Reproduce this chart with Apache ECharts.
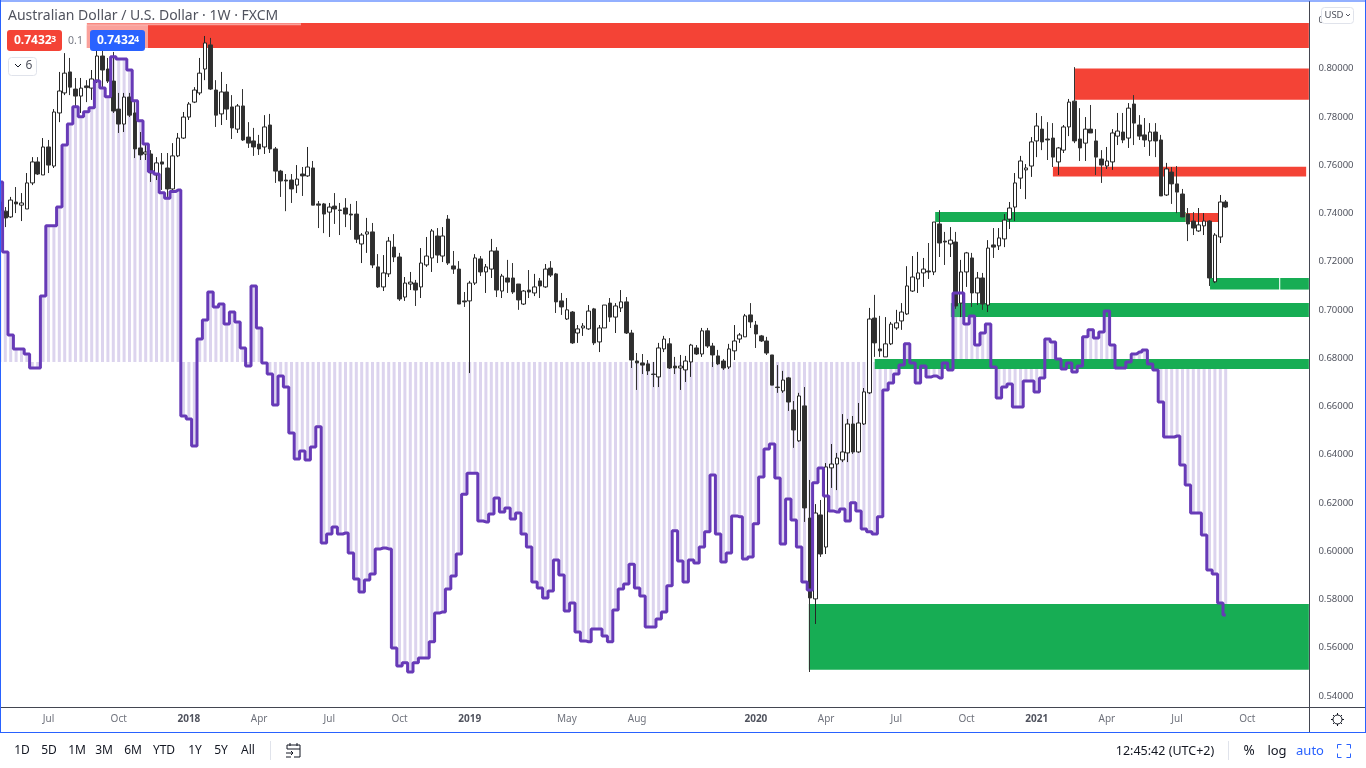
<!DOCTYPE html>
<html><head><meta charset="utf-8">
<style>html,body{margin:0;padding:0;background:#fff;overflow:hidden}#c{width:1366px;height:768px}</style>
<script src="https://cdn.jsdelivr.net/npm/echarts@6/dist/echarts.min.js"></script>
</head><body><div id="c"></div>
<script>
const weekOpen=[.7447,.7409,.7385,.7447,.7434,.7418,.7526,.7613,.7559,.7675,
.7596,.7816,.7899,.7986,.7915,.7886,.7928,.7919,.7952,.8052,
.7998,.7948,.7832,.7770,.7882,.7816,.7671,.7646,.7646,.7559,
.7613,.7588,.7501,.7638,.7712,.7799,.7861,.7899,.7998,.8098,
.7911,.7812,.7903,.7841,.7749,.7845,.7716,.7700,.7687,.7675,
.7766,.7667,.7575,.7538,.7538,.7517,.7563,.7555,.7588,.7439,
.7439,.7405,.7430,.7414,.7422,.7397,.7397,.7273,.7314,.7323,
.7178,.7095,.7149,.7260,.7219,.7053,.7107,.7111,.7095,.7186,
.7215,.7306,.7223,.7376,.7182,.7169,.7037,.7037,.7111,.7211,
.7157,.7169,.7244,.7078,.7132,.7132,.7107,.7024,.7082,.7070,
.7120,.7095,.7173,.7149,.7037,.6962,.6991,.6904,.6925,.6921,
.7004,.6867,.6925,.7028,.6970,.7008,.7033,.6904,.6788,.6780,
.6776,.6734,.6722,.6838,.6859,.6767,.6759,.6751,.6784,.6842,
.6817,.6913,.6850,.6809,.6788,.6763,.6830,.6879,.6888,.6979,
.6937,.6892,.6871,.6813,.6680,.6664,.6718,.6585,.6457,.6602,
.6137,.5802,.6150,.6017,.6345,.6361,.6378,.6407,.6527,.6411,
.6527,.6656,.6966,.6838,.6805,.6859,.6925,.6954,.6983,.7078,
.7128,.7153,.7161,.7157,.7356,.7285,.7273,.7281,.7028,.7157,
.7215,.7070,.7132,.7020,.7269,.7265,.7294,.7376,.7426,.7546,
.7580,.7596,.7700,.7749,.7708,.7712,.7613,.7662,.7758,.7865,
.7708,.7691,.7749,.7700,.7625,.7596,.7613,.7720,.7737,.7712,
.7853,.7766,.7725,.7700,.7737,.7704,.7476,.7571,.7522,.7480,
.7397,.7368,.7327,.7348,.7368,.7116,.7302,.7447];
const weekClose=[.7413,.7381,.7455,.7439,.7443,.7526,.7613,.7563,.7675,.7600,
.7820,.7907,.7981,.7923,.7886,.7919,.7921,.7957,.8052,.7994,
.7948,.7824,.7770,.7882,.7807,.7667,.7642,.7654,.7567,.7609,
.7604,.7501,.7638,.7712,.7799,.7853,.7911,.7981,.8106,.7915,
.7807,.7903,.7832,.7754,.7845,.7704,.7691,.7675,.7667,.7758,
.7667,.7575,.7534,.7534,.7501,.7542,.7555,.7592,.7434,.7434,
.7397,.7426,.7418,.7412,.7397,.7393,.7293,.7310,.7323,.7186,
.7095,.7153,.7285,.7219,.7045,.7111,.7115,.7082,.7194,.7223,
.7327,.7227,.7306,.7194,.7169,.7024,.7033,.7111,.7215,.7157,
.7178,.7244,.7082,.7140,.7115,.7074,.7041,.7078,.7074,.7095,
.7099,.7169,.7144,.7033,.7012,.7000,.6863,.6921,.6933,.6995,
.6863,.6925,.7020,.6970,.7016,.7033,.6904,.6792,.6780,.6771,
.6747,.6732,.6842,.6879,.6759,.6759,.6767,.6788,.6854,.6817,
.6913,.6850,.6813,.6776,.6759,.6838,.6871,.6896,.6975,.6950,
.6900,.6871,.6821,.6688,.6678,.6709,.6618,.6502,.6643,.6179,
.5806,.6158,.5988,.6349,.6361,.6386,.6411,.6527,.6411,.6531,
.6660,.6962,.6863,.6830,.6859,.6941,.6946,.6991,.7099,.7136,
.7153,.7169,.7157,.7364,.7277,.7281,.7289,.7016,.7157,.7236,
.7070,.7132,.7024,.7256,.7260,.7298,.7372,.7422,.7526,.7617,
.7588,.7696,.7762,.7696,.7704,.7633,.7671,.7758,.7861,.7700,
.7671,.7749,.7733,.7633,.7600,.7617,.7733,.7741,.7704,.7836,
.7774,.7720,.7704,.7737,.7700,.7472,.7584,.7522,.7488,.7385,
.7356,.7339,.7352,.7368,.7132,.7310,.7447,.7426];
const weekLow=[.7385,.7343,.7381,.7401,.7368,.7418,.7517,.7559,.7559,.7567,
.7588,.7778,.7890,.7890,.7841,.7816,.7861,.7870,.7940,.7923,
.7940,.7816,.7733,.7737,.7799,.7629,.7621,.7621,.7530,.7538,
.7497,.7468,.7488,.7633,.7708,.7787,.7857,.7890,.7952,.7911,
.7758,.7766,.7787,.7708,.7733,.7700,.7671,.7638,.7642,.7646,
.7650,.7526,.7468,.7409,.7443,.7484,.7472,.7551,.7434,.7339,
.7318,.7302,.7356,.7310,.7343,.7331,.7277,.7194,.7236,.7173,
.7091,.7078,.7136,.7198,.7037,.7037,.7082,.7016,.7049,.7178,
.7157,.7194,.7198,.7186,.7149,.7024,.7012,.6738,.7103,.7140,
.7070,.7132,.7053,.7049,.7070,.7066,.7000,.7020,.7049,.7057,
.7049,.7091,.7136,.6987,.6979,.6958,.6859,.6863,.6892,.6917,
.6854,.6825,.6925,.6950,.6904,.6991,.6900,.6759,.6668,.6734,
.6730,.6680,.6680,.6825,.6755,.6734,.6668,.6701,.6722,.6813,
.6805,.6842,.6763,.6771,.6751,.6755,.6792,.6863,.6888,.6925,
.6842,.6867,.6813,.6688,.6656,.6656,.6581,.6428,.6453,.6121,
.5499,.5698,.5976,.5988,.6262,.6253,.6369,.6369,.6403,.6407,
.6523,.6651,.6805,.6805,.6805,.6854,.6917,.6917,.6979,.7074,
.7070,.7095,.7128,.7144,.7219,.7186,.7219,.7004,.6970,.7095,
.7012,.7020,.7000,.6991,.7215,.7248,.7260,.7335,.7368,.7501,
.7459,.7551,.7633,.7662,.7621,.7592,.7559,.7650,.7720,.7691,
.7617,.7617,.7733,.7559,.7526,.7584,.7580,.7683,.7691,.7671,
.7683,.7704,.7675,.7638,.7633,.7472,.7472,.7439,.7401,.7385,
.7285,.7310,.7323,.7310,.7099,.7111,.7277,.7422];
const weekHigh=[.7463,.7426,.7468,.7509,.7484,.7567,.7633,.7633,.7712,.7704,
.7832,.7986,.8064,.8044,.7961,.7961,.7952,.7994,.8077,.8077,
.8044,.8069,.7899,.7899,.7899,.7861,.7737,.7683,.7662,.7633,
.7650,.7650,.7691,.7733,.7820,.7861,.7923,.8044,.8135,.8127,
.7952,.7986,.7936,.7890,.7853,.7915,.7778,.7754,.7725,.7807,
.7812,.7675,.7580,.7563,.7563,.7600,.7592,.7675,.7617,.7451,
.7443,.7443,.7484,.7443,.7463,.7439,.7451,.7318,.7381,.7360,
.7231,.7227,.7302,.7314,.7236,.7136,.7157,.7124,.7256,.7302,
.7335,.7339,.7343,.7393,.7244,.7202,.7074,.7120,.7231,.7223,
.7190,.7294,.7260,.7149,.7207,.7194,.7107,.7082,.7165,.7149,
.7132,.7190,.7202,.7153,.7070,.7049,.6995,.6937,.6945,.7020,
.7008,.6937,.7020,.7049,.7028,.7082,.7053,.6917,.6821,.6817,
.6792,.6784,.6863,.6892,.6883,.6805,.6813,.6809,.6859,.6854,
.6925,.6925,.6863,.6834,.6796,.6859,.6937,.6904,.6983,.7028,
.6954,.6896,.6888,.6813,.6771,.6747,.6722,.6622,.6656,.6680,
.6295,.6195,.6212,.6365,.6444,.6407,.6568,.6548,.6560,.6614,
.6676,.7008,.7062,.6975,.6970,.6950,.7000,.7028,.7181,.7223,
.7240,.7215,.7277,.7364,.7413,.7323,.7343,.7323,.7207,.7240,
.7236,.7157,.7153,.7289,.7339,.7339,.7397,.7447,.7567,.7638,
.7604,.7716,.7816,.7803,.7778,.7774,.7675,.7766,.7874,.8006,
.7836,.7799,.7849,.7749,.7662,.7675,.7749,.7816,.7816,.7857,
.7890,.7807,.7795,.7774,.7774,.7725,.7609,.7592,.7596,.7501,
.7422,.7405,.7422,.7401,.7372,.7318,.7476,.7455];
const oscillator=[.7530,.7240,.6896,.6838,.6838,.6817,.6759,.6759,.7057,.7349,
.7349,.7426,.7683,.7770,.7842,.7800,.7821,.7838,.7948,.7919,
.7883,.8049,.8040,.8040,.7994,.7867,.7784,.7687,.7572,.7563,
.7485,.7463,.7490,.7497,.6560,.6548,.6436,.6879,.6958,.7074,
.7012,.7024,.6941,.6991,.6950,.6842,.6767,.7099,.6925,.6780,
.6734,.6606,.6726,.6680,.6490,.6382,.6415,.6378,.6432,.6515,
.6034,.6071,.6100,.6071,.6075,.5992,.5885,.5831,.5880,.5905,
.6009,.6013,.6009,.5599,.5524,.5537,.5499,.5537,.5557,.5557,
.5624,.5744,.5748,.5843,.5897,.5988,.6236,.6323,.6323,.6125,
.6121,.6154,.6220,.6162,.6179,.6133,.6158,.6071,.6017,.5872,
.5847,.5806,.5835,.5963,.5901,.5752,.5785,.5665,.5628,.5624,
.5677,.5677,.5648,.5624,.5756,.5843,.5864,.5946,.5847,.5814,
.5686,.5686,.5719,.5748,.5856,.6084,.5959,.5872,.5963,.5951,
.6017,.6080,.6316,.6071,.5955,.5992,.6146,.6142,.5967,.5976,
.6113,.6307,.6423,.6444,.6303,.6030,.6216,.6129,.6017,.5872,
.5839,.6283,.6345,.6229,.6166,.6162,.6175,.6125,.6200,.6166,
.6092,.6080,.6071,.6142,.6668,.6697,.6734,.6771,.6859,.6780,
.6697,.6767,.6722,.6726,.6718,.6780,.6751,.7070,.7070,.6941,
.6974,.6854,.6904,.6941,.6763,.6635,.6680,.6693,.6597,.6597,
.6705,.6705,.6660,.6718,.6879,.6867,.6796,.6755,.6780,.6742,
.6767,.6888,.6917,.6883,.6908,.6995,.6854,.6759,.6759,.6784,
.6817,.6825,.6834,.6776,.6751,.6618,.6473,.6473,.6477,.6357,
.6274,.6158,.6158,.6067,.5922,.5905,.5785,.5735];
const oscillatorBase=.6784;
const zoneKind=['supply','supply','supply','demand','supply','demand','demand','demandFaint','demand','demand','demand'];
const zoneFromBar=[16.1,199.1,195,173.2,219.6,224.1,237.1,176.1,178,162,149.8];
const zoneToBar=[242.4,242.4,241.9,219.6,225.8,236.9,242.4,178,242.4,242.4,242.4];
const zoneTopPrice=[.8189,.8000,.7593,.7405,.7401,.7132,.7132,.7028,.7028,.6796,.5781];
const zoneBottomPrice=[.8085,.7871,.7553,.7364,.7364,.7084,.7084,.6970,.6970,.6755,.5508];
const priceTicks=[.54,.56,.58,.60,.62,.64,.66,.68,.70,.72,.74,.76,.78,.80,.82];
const timeTickBars=[9,22,35,48,61,74,87,105,118,140,153,166,179,192,205,218,231];
const timeTickLabels=['Jul','Oct','2018','Apr','Jul','Oct','2019','May','Aug','2020','Apr','Jul','Oct','2021','Apr','Jul','Oct'];
const barSlots=243;
const rangeLeft=['1D','5D','1M','3M','6M','YTD','1Y','5Y','All'];

const categories=new Array(barSlots).fill('');
timeTickBars.forEach((b,k)=>{categories[b]=timeTickLabels[k];});
const candles=weekOpen.map((o,k)=>[o,weekClose[k],weekLow[k],weekHigh[k]]);
const zones=zoneKind.map((k,n)=>[zoneFromBar[n],zoneToBar[n],zoneTopPrice[n],zoneBottomPrice[n]]);
const zoneFill={supply:'#f44336',demand:'#17ad54',demandFaint:'#36b56d'};

const FONT='"Noto Sans",sans-serif';
const Z=100;
function txt(t,x,y,o){o=o||{};return {type:'text',z:Z+2,style:{text:t,x:x,y:y,fill:o.fill||'#131722',font:(o.weight||'normal')+' '+(o.size||12)+'px '+FONT,textAlign:o.align||'center',textVerticalAlign:'middle'}};}
function rect(x,y,w,h,fill,o){o=o||{};return {type:'rect',z:o.z||Z,shape:{x:x,y:y,width:w,height:h,r:o.r||0},style:{fill:fill,stroke:o.stroke||null,lineWidth:o.stroke?1:0}};}
function poly(pts,color,w){return {type:'polyline',z:Z+2,shape:{points:pts},style:{stroke:color,lineWidth:w||1,fill:null}};}
const g=[];
g.push(rect(1,23.2,300,2,'rgba(255,255,255,.5)',{z:Z}));
g.push(rect(87,25,61,23,'rgba(255,255,255,.5)',{z:Z}));
g.push(rect(1309,1,1,731,'#434651',{z:Z+1}));
g.push(rect(1,707,1364,1,'#434651',{z:Z+1}));
g.push(rect(0,0.5,1366,1,'#2962ff',{z:Z+1}));
g.push(rect(0,732,1366,1,'#2962ff',{z:Z+1}));
g.push(rect(0,0,1,733,'#2962ff',{z:Z+1}));
g.push(rect(1365,0,1,733,'#2962ff',{z:Z+1}));
g.push(txt('Australian Dollar / U.S. Dollar · 1W · FXCM',8,16,{align:'left',size:14,fill:'#50535e'}));
g.push(rect(7,30,55,21,'#f44336',{r:3,z:Z+1}));
g.push(txt('0.7432',14,41,{align:'left',weight:'bold',size:12,fill:'#fff'}));
g.push(txt('3',51,39,{align:'left',size:9,weight:'bold',fill:'#fff'}));
g.push(txt('0.1',75.5,41,{size:10.5,fill:'#787b86'}));
g.push(rect(90,30,55,21,'#2962ff',{r:3,z:Z+1}));
g.push(txt('0.7432',97,41,{align:'left',weight:'bold',size:12,fill:'#fff'}));
g.push(txt('4',134,39,{align:'left',size:9,weight:'bold',fill:'#fff'}));
g.push(rect(8.5,57.5,28,18,'#fff',{r:3,stroke:'#e0e3eb',z:Z+1}));
g.push(poly([[15,64],[18,67],[21,64]],'#131722',1));
g.push(txt('6',29,66,{size:12,fill:'#50535e'}));
g.push(rect(1321.5,7.5,32,16,'#fff',{r:3,stroke:'#e0e3eb',z:Z+1}));
g.push(txt('USD',1334,15,{size:9.5,fill:'#50535e'}));
g.push(poly([[1346,14],[1348,16],[1350,14]],'#50535e',1));
g.push({type:'circle',z:Z+2,shape:{cx:1337.5,cy:719.5,r:4.5},style:{stroke:'#131722',lineWidth:1,fill:null}});
[[0,-6.5,0,-4.5],[0,4.5,0,6.5],[-6.5,0,-4.5,0],[4.5,0,6.5,0],[-4.5,-4.5,-3.2,-3.2],[4.5,-4.5,3.2,-3.2],[-4.5,4.5,-3.2,3.2],[4.5,4.5,3.2,3.2]].forEach(s=>{
  g.push(poly([[1337.5+s[0],719.5+s[1]],[1337.5+s[2],719.5+s[3]]],'#131722',1));
});
const rangeX=[22,49,77,104,133,164,195,221,248];
rangeLeft.forEach((t,k)=>g.push(txt(t,rangeX[k],751,{size:12,fill:'#131722'})));
g.push(rect(270,741,1,19,'#e0e3eb',{z:Z+1}));
g.push(poly([[287,749],[287,745],[300,745],[300,757],[294,757]],'#131722',1));
g.push(poly([[287,749],[300,749]],'#131722',1));
g.push(poly([[290,743],[290,746]],'#131722',1));
g.push(poly([[297,743],[297,746]],'#131722',1));
g.push(poly([[286,753],[293,753]],'#131722',1));
g.push(poly([[291,751],[293,753],[291,755]],'#131722',1));
g.push(poly([[286,757],[291,757]],'#131722',1));
g.push(txt('12:45:42 (UTC+2)',1165,751,{size:12.5,fill:'#131722'}));
g.push(rect(1228,741,1,19,'#e0e3eb',{z:Z+1}));
g.push(txt('%',1249,751,{size:13.5,fill:'#131722'}));
g.push(txt('log',1277,751,{size:13,fill:'#131722'}));
g.push(txt('auto',1310,751,{size:13,fill:'#2962ff'}));
const fx=1337.5,fy=744.5,fs=13;
[[[fx,fy+4],[fx,fy],[fx+4,fy]],[[fx+fs-4,fy],[fx+fs,fy],[fx+fs,fy+4]],[[fx+fs,fy+fs-4],[fx+fs,fy+fs],[fx+fs-4,fy+fs]],[[fx+4,fy+fs],[fx,fy+fs],[fx,fy+fs-4]]].forEach(p=>g.push(poly(p,'#2962ff',1)));

const chart=echarts.init(document.getElementById('c'),null,{renderer:'canvas'});
chart.setOption({
  animation:false,
  backgroundColor:'#fff',
  textStyle:{fontFamily:FONT},
  grid:{left:-2.8,top:1,width:5.4*barSlots,height:706,containLabel:false,outerBoundsMode:'none'},
  xAxis:{type:'category',data:categories,boundaryGap:true,
    axisLine:{show:false},axisTick:{show:false},splitLine:{show:false},
    axisLabel:{interval:0,margin:5,hideOverlap:false,
      formatter:v=>v===''?'':(/^\d{4}$/.test(v)?'{yr|'+v+'}':'{mo|'+v+'}'),
      rich:{yr:{fontFamily:FONT,fontSize:10,fontWeight:'bold',color:'#50535e',lineHeight:14},mo:{fontFamily:FONT,fontSize:10,color:'#6f727c',lineHeight:14}}}},
  yAxis:{type:'value',position:'right',min:.5354,max:.8280,scale:true,
    axisLine:{show:false},axisTick:{show:false},splitLine:{show:false},
    axisLabel:{customValues:priceTicks,margin:9,padding:[3,0,0,0],fontFamily:FONT,fontSize:9.5,color:'#50535e',formatter:v=>v.toFixed(5)}},
  graphic:{elements:g},
  series:[
    {type:'custom',name:'oscillatorBars',z:1,clip:true,silent:true,
      data:oscillator.map((v,k)=>[k,v]),encode:{x:0,y:1},
      renderItem:(p,api)=>{
        const a=api.coord([api.value(0),api.value(1)]),b=api.coord([api.value(0),oscillatorBase]);
        const t=Math.min(a[1],b[1]),h=Math.abs(a[1]-b[1]);
        return {type:'rect',shape:{x:a[0]-1.5,y:t,width:3,height:h},style:{fill:'#dcd4ee'}};
      }},
    {type:'custom',name:'zones',z:2,clip:true,silent:true,
      data:zones,encode:{x:[0,1],y:[2,3]},
      renderItem:(p,api)=>{
        const band=api.size([1,0])[0];
        const barX=v=>{const f=Math.floor(v);return api.coord([f,api.value(2)])[0]+(v-f)*band;};
        const x0=barX(api.value(0)),x1=barX(api.value(1));
        const y0=api.coord([0,api.value(2)])[1],y1=api.coord([0,api.value(3)])[1];
        const c=zoneFill[zoneKind[p.dataIndex]];
        return {type:'rect',shape:{x:x0,y:y0,width:x1-x0,height:y1-y0},style:{fill:c}};
      }},
    {type:'candlestick',name:'AUDUSD',z:3,silent:true,data:candles,barWidth:4,
      itemStyle:{color:'#ffffff',color0:'#2e2e2e',borderColor:'#262626',borderColor0:'#333333',borderWidth:1}},
    {type:'line',name:'oscillator',z:4,silent:true,data:oscillator,step:'middle',symbol:'none',
      lineStyle:{color:'#673ab7',width:3}}
  ]
});
</script></body></html>
